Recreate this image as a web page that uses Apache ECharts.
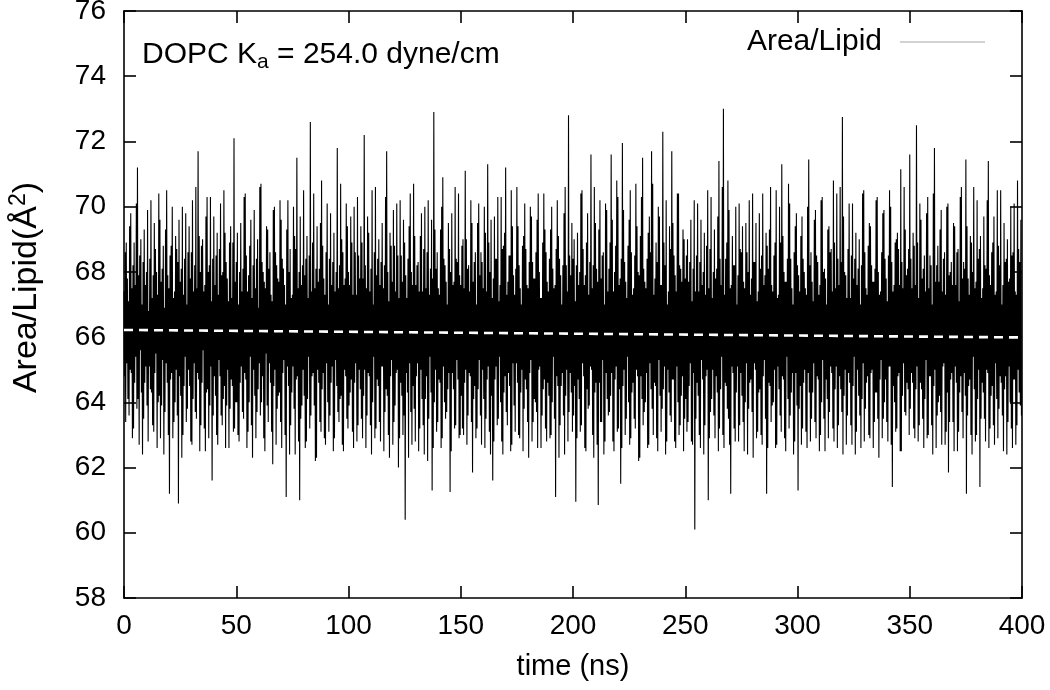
<!DOCTYPE html>
<html>
<head>
<meta charset="utf-8">
<script src="https://cdn.jsdelivr.net/npm/echarts@6/dist/echarts.min.js"></script>
<style>
html,body{margin:0;padding:0;background:#fff;}
#chart{width:1050px;height:690px;}
</style>
</head>
<body>
<div id="chart"></div>
<script>
// Sample spacing (ns) of the area-per-lipid trace
const timeStep = 0.25;

// Area/Lipid values (Å^2), in 50 ns blocks
const area_0_50 = [
67.4,64.8,68.6,63.4,68.9,65.2,67.8,64.1,67.1,63.6,69.4,65.0,69.8,64.9,67.5,62.9,68.2,63.2,68.9,64.6,
67.6,65.4,70.1,63.8,71.2,64.1,67.9,62.7,68.5,65.6,69.0,64.3,67.0,62.4,68.3,63.5,69.3,64.6,67.6,65.1,
68.0,63.9,69.9,62.8,66.8,65.1,68.4,64.4,70.2,64.3,67.2,63.3,67.9,63.1,69.5,64.9,68.7,65.5,68.0,62.6,
67.3,64.0,70.4,64.2,69.6,62.9,67.7,63.9,68.1,65.3,68.8,62.4,66.9,63.7,69.3,65.2,70.5,64.6,67.9,63.0,
67.5,61.2,68.5,64.7,68.8,64.9,70.0,62.9,67.2,63.4,67.4,64.0,69.1,65.0,68.7,63.6,68.3,60.9,69.6,64.8,
67.7,64.2,68.1,62.3,70.0,63.0,67.3,64.5,68.4,65.4,69.8,63.4,67.0,63.8,68.6,65.0,69.4,64.5,67.8,62.8,
68.6,62.7,70.2,64.1,67.4,65.2,68.2,63.7,70.6,63.5,67.5,64.9,71.7,64.7,69.1,62.5,68.0,63.3,68.8,64.6,
69.0,65.6,67.4,63.2,67.6,62.5,69.7,64.3,70.3,64.4,68.0,62.9,68.2,63.9,70.3,65.1,67.1,61.6,68.4,63.6,
69.7,64.8,67.6,64.2,68.5,63.0,69.2,62.7,67.3,65.3,68.7,64.8,70.1,63.6,67.9,63.3,68.0,64.1,70.5,64.5,
69.2,62.6,68.3,63.9,67.8,65.0,67.1,62.6,68.9,63.8,69.4,64.7,67.2,64.5,68.9,63.1,72.1,63.2,67.7,64.0];
const area_50_100 = [
68.3,64.0,69.2,63.0,67.0,62.8,68.0,64.6,69.5,65.1,67.4,63.7,68.1,63.5,70.3,64.9,70.4,64.7,68.5,62.6,
67.4,63.1,67.9,64.0,68.8,65.4,69.6,63.3,67.2,62.3,68.2,65.0,69.9,64.2,67.5,62.9,68.4,63.7,69.0,64.4,
66.9,65.2,70.6,63.6,70.7,64.0,68.3,64.8,68.0,62.9,67.7,62.5,67.5,65.5,69.4,63.9,69.3,63.4,68.1,65.2,
68.6,64.6,67.3,63.1,67.1,62.1,69.9,64.5,70.0,65.0,68.6,62.7,68.2,63.8,67.8,64.2,67.7,64.3,70.2,63.4,
69.6,62.6,68.4,64.9,68.1,65.3,67.6,63.0,67.0,61.1,69.3,65.1,70.2,64.5,68.0,62.4,68.7,63.3,67.2,64.3,
67.3,65.1,70.0,63.8,69.1,62.4,68.7,64.7,71.5,64.8,67.5,62.8,68.0,61.0,69.7,63.5,67.6,63.9,68.2,65.0,
70.5,64.2,67.9,62.6,68.4,62.8,69.1,64.1,67.2,65.4,68.5,63.2,72.6,63.6,67.4,64.8,68.9,64.9,70.4,63.9,
67.5,62.2,68.1,62.3,69.4,65.0,67.7,64.6,68.1,63.4,69.5,63.1,70.8,64.4,68.8,64.9,67.8,62.9,67.3,62.7,
68.6,65.2,70.1,64.0,67.0,63.1,68.4,63.6,69.8,64.6,67.6,65.1,68.3,62.5,69.2,62.9,67.4,65.3,68.0,64.5,
71.8,63.7,67.5,63.4,68.2,64.1,70.7,64.2,69.0,62.7,68.6,62.5,67.6,65.0,67.8,64.8,70.1,63.5,69.4,63.2];
const area_100_150 = [
68.0,63.9,67.6,64.3,69.7,64.7,68.9,63.1,67.3,62.6,70.0,64.6,68.6,65.2,67.3,62.8,70.3,63.3,68.5,65.0,
67.8,64.4,69.4,63.5,68.9,62.9,67.8,64.2,72.2,65.0,68.2,62.6,67.5,63.6,69.7,64.9,69.2,64.8,67.4,63.3,
68.1,62.4,70.5,64.0,67.0,65.4,68.6,62.9,70.6,63.2,67.9,64.7,68.4,64.5,69.0,63.4,67.6,62.8,68.3,65.1,
69.5,65.1,67.5,62.5,68.2,63.7,70.3,64.4,71.7,64.2,68.0,63.0,67.1,62.3,69.2,64.8,68.8,65.3,67.7,62.7,
69.9,63.4,68.8,63.9,67.4,64.9,70.1,65.0,68.5,62.0,67.2,62.9,70.2,64.6,68.5,64.2,67.7,63.0,69.6,63.6,
68.9,60.4,67.9,64.9,67.2,64.3,68.4,62.3,69.4,65.2,70.4,63.7,68.0,62.7,67.6,64.5,70.7,63.8,69.1,62.8,
67.6,64.8,68.2,65.2,68.3,62.5,67.4,63.2,69.1,65.0,69.8,64.1,67.4,63.3,68.7,62.4,70.0,64.1,67.5,64.8,
68.6,62.2,70.2,63.5,67.3,65.4,68.1,64.3,69.6,61.3,67.8,62.6,72.9,64.0,69.3,65.0,68.1,63.1,68.6,63.4,
67.5,64.7,67.3,64.6,69.3,62.6,70.0,62.9,70.9,65.1,68.4,64.0,68.2,63.5,67.7,63.7,67.0,64.4,69.5,64.9,
68.7,61.25,68.0,62.5,69.8,64.9,67.6,64.4,67.7,63.2,70.6,63.3,68.4,65.3,68.3,64.7,70.4,62.9,67.9,63.0];
const area_150_200 = [
67.6,64.2,68.8,63.2,69.0,63.0,67.5,64.6,71.1,65.0,69.0,62.7,68.1,63.6,68.2,64.9,67.4,64.8,70.2,63.4,
69.5,61.85,67.7,64.1,68.3,64.5,68.6,62.9,67.0,63.2,69.5,64.4,70.1,65.3,67.9,63.6,68.6,62.7,68.3,65.0,
67.5,64.1,70.0,62.6,69.2,63.5,67.4,64.7,71.3,65.1,68.9,63.1,68.0,62.4,69.6,64.2,67.2,61.6,67.8,62.8,
69.7,64.7,68.4,65.1,68.4,63.3,70.3,63.5,67.1,65.4,67.6,64.0,70.3,62.8,68.7,62.4,68.8,64.3,69.2,64.8,
71.2,63.7,67.3,63.3,67.7,64.9,68.5,64.5,68.5,62.5,70.5,62.7,69.4,65.2,67.9,63.9,67.3,63.1,68.1,65.2,
70.6,64.6,69.4,63.0,68.2,62.9,67.5,64.3,67.0,65.0,68.8,62.5,69.1,63.8,70.1,64.7,68.7,64.4,67.6,63.4,
67.5,62.3,68.3,64.9,70.0,65.3,69.7,62.8,68.3,63.4,67.8,64.1,67.8,64.0,68.6,63.7,69.6,62.6,70.4,65.0,
68.0,65.1,67.2,62.6,67.2,63.6,68.9,64.4,70.4,64.7,69.3,63.2,68.6,62.8,67.7,64.6,67.4,64.2,68.4,62.9,
69.3,63.0,70.0,64.0,68.1,65.4,67.5,63.5,67.6,61.1,68.7,64.8,70.2,64.5,69.1,62.3,68.4,63.3,67.9,64.5,
67.0,64.9,68.2,63.6,69.8,62.4,70.6,64.2,68.2,65.0,67.4,62.8,72.8,63.7,68.5,64.9,67.9,64.3,69.5,63.1];
const area_200_250 = [
68.4,63.6,69.0,64.5,67.1,60.95,68.2,62.9,69.2,64.7,67.6,64.1,68.0,63.1,70.4,63.3,70.5,65.2,68.7,64.8,
67.6,62.6,67.9,62.5,68.9,64.4,69.8,63.8,67.3,63.9,68.3,65.1,71.6,65.0,67.5,63.0,68.2,62.3,70.6,64.3,
69.5,64.6,68.1,62.7,67.7,60.85,69.3,64.6,70.2,63.4,67.8,63.4,68.5,65.3,68.6,62.4,67.0,62.8,70.1,64.9,
69.9,64.1,67.4,63.6,68.1,63.7,68.9,64.2,71.6,64.9,69.6,62.8,67.4,62.5,68.0,64.7,68.8,65.1,70.8,63.1,
70.3,63.2,67.6,64.4,67.8,61.5,68.4,62.6,71.95,64.5,69.9,65.0,68.3,63.0,67.7,63.5,67.2,65.4,68.8,64.0,
69.6,62.7,70.5,62.9,68.6,64.3,67.3,64.6,67.5,63.5,68.5,63.2,70.7,65.0,69.4,64.8,68.0,62.2,67.9,62.3,
69.1,64.8,70.3,64.1,71.5,63.3,68.1,63.7,67.7,64.0,67.5,64.9,68.4,62.6,69.2,62.7,69.7,65.2,68.6,64.4,
71.7,63.8,70.7,63.0,67.3,64.6,67.8,64.5,68.9,62.9,68.3,62.5,70.0,65.3,69.7,64.2,67.6,63.1,67.6,63.8,
72.3,64.4,68.9,65.1,68.2,62.4,70.2,62.8,67.0,65.0,67.4,64.3,69.4,63.6,68.7,63.4,71.7,64.7,69.5,64.7,
68.5,62.8,67.9,62.6,67.4,65.1,70.4,64.0,70.4,63.0,68.2,63.3,68.1,64.2,67.7,64.8,69.3,62.5,69.0,63.5];
const area_250_300 = [
67.8,64.1,68.5,63.1,69.0,63.4,67.7,64.5,68.3,65.2,69.6,62.8,67.1,62.7,68.1,64.9,70.2,60.1,67.4,63.5,
68.5,64.6,70.1,64.2,67.4,63.0,68.3,62.6,69.6,65.3,67.6,64.7,68.0,62.4,69.2,63.3,67.3,64.8,68.8,65.0,
70.5,61.0,67.5,62.9,68.7,63.7,70.3,64.1,67.2,65.0,68.0,63.6,69.3,62.9,67.8,64.8,68.1,64.3,69.7,62.5,
71.4,63.2,68.4,64.4,67.6,65.4,70.6,63.0,73.0,62.6,67.3,64.6,68.4,64.5,68.9,63.8,70.8,63.5,69.9,62.7,
67.5,61.2,67.6,65.1,69.1,64.9,68.2,63.2,68.2,62.8,70.0,64.3,67.0,65.1,67.9,62.8,70.1,63.3,68.7,64.9,
68.6,64.2,69.4,63.4,67.7,62.5,67.5,64.0,69.5,65.2,68.6,62.4,68.0,63.8,70.2,64.6,67.3,64.7,67.8,63.7,
70.4,62.3,68.3,65.2,68.3,65.0,69.5,62.9,67.1,63.1,67.4,64.3,69.8,64.4,68.1,63.0,68.5,62.7,70.4,64.8,
67.6,65.3,67.9,63.5,69.2,61.2,68.8,62.6,68.1,64.6,69.3,64.5,70.6,63.4,67.6,63.9,67.4,64.0,68.5,65.0,
68.9,62.6,70.5,62.7,67.2,65.1,67.3,64.4,70.0,63.6,68.9,63.1,71.3,64.8,69.1,64.7,68.0,62.9,67.7,62.5,
67.7,65.4,68.4,64.1,70.7,63.2,70.1,63.6,68.4,64.3,67.5,64.9,67.0,62.4,68.6,62.8,69.4,64.9,69.8,63.9];
const area_300_350 = [
68.2,61.3,67.9,63.8,67.4,64.5,69.1,62.7,69.7,63.2,68.4,64.6,68.0,65.0,67.5,63.1,67.3,62.6,70.0,64.9,
71.45,64.3,68.2,62.8,68.6,63.5,67.7,64.3,67.1,65.2,69.6,63.4,69.9,62.9,68.5,64.8,68.3,64.7,67.3,62.5,
67.6,63.0,70.2,64.0,70.3,65.3,68.0,63.5,68.1,62.5,67.8,64.7,67.0,64.1,69.3,62.9,69.4,63.7,68.6,65.1,
68.7,64.9,67.4,63.2,70.8,62.8,68.9,64.4,67.5,65.1,70.4,62.6,68.4,63.3,67.6,64.8,70.6,64.4,68.3,63.7,
72.75,62.4,69.7,64.2,68.0,65.0,67.9,62.7,67.2,63.6,68.7,64.9,70.1,64.6,67.2,63.3,68.5,62.7,70.1,64.5,
67.8,65.4,68.4,62.4,69.2,63.1,67.6,65.0,68.1,64.2,69.0,63.6,67.0,62.6,68.2,64.1,70.4,65.2,70.5,62.8,
68.6,63.8,67.5,64.6,67.3,64.8,68.8,63.0,69.5,62.9,69.4,64.9,68.2,65.0,67.7,62.6,67.7,63.4,68.1,64.3,
70.2,64.3,70.3,63.5,68.0,62.3,67.3,64.7,67.4,65.3,68.6,62.9,69.8,63.5,69.9,64.0,68.4,64.7,67.8,63.4,
67.1,62.8,68.5,65.1,70.5,65.1,70.0,62.7,68.3,61.4,67.4,64.5,67.6,64.0,68.9,63.1,69.0,63.2,69.2,64.8,
68.7,64.9,67.6,62.5,71.15,62.5,68.3,64.2,67.5,65.2,70.6,63.7,69.3,63.6,67.9,64.6,68.1,64.4,68.7,63.0];
const area_350_400 = [
71.6,63.8,68.4,64.9,67.5,64.6,69.2,63.2,68.8,62.9,67.6,64.4,72.5,65.1,68.9,62.8,67.2,63.3,70.1,64.6,
69.6,64.4,67.8,63.5,68.1,62.6,68.5,64.1,67.4,65.3,69.8,62.9,70.3,63.0,67.5,64.8,68.5,64.8,68.2,63.3,
67.0,62.4,70.4,64.5,71.8,65.0,67.7,62.6,68.2,63.6,68.8,64.0,67.7,64.2,69.3,63.7,69.9,62.7,67.4,65.1,
68.4,65.2,68.6,62.7,67.3,63.1,70.0,64.3,70.1,61.85,67.9,63.4,68.0,64.7,68.3,64.9,67.6,63.4,69.5,62.5,
69.4,65.1,67.6,64.6,68.6,62.5,68.7,63.1,67.1,64.3,70.3,64.8,70.6,63.7,67.8,62.9,68.3,64.9,68.1,64.2,
71.45,61.2,69.4,63.6,67.8,64.5,67.3,64.7,69.1,63.0,68.9,62.4,68.0,65.4,70.6,64.4,67.5,62.8,67.7,63.0,
70.2,64.1,68.4,65.0,68.7,61.4,69.1,63.5,67.2,64.6,67.5,64.3,69.7,63.5,68.2,62.8,68.1,65.0,70.2,64.9,
71.4,62.6,67.9,63.2,67.6,64.2,68.6,64.5,68.9,63.3,69.7,62.7,67.3,65.2,67.4,64.1,70.5,62.9,68.8,63.8,
68.2,64.8,70.5,64.6,67.0,63.6,67.6,62.5,69.5,64.4,68.3,64.8,68.4,62.4,69.0,63.4,67.7,65.1,67.8,64.0,
70.0,63.2,68.5,62.6,68.6,64.7,70.1,64.7,67.4,62.7,67.3,63.3,70.8,65.0,68.7,64.3,68.3,63.9,69.6,63.6];

// Linear fit (white dashed line)
const fitTimes = [0, 400];
const fitValues = [66.22, 65.99];

// Axis ticks
const xTicks = [0, 50, 100, 150, 200, 250, 300, 350, 400];
const yTicks = [58, 60, 62, 64, 66, 68, 70, 72, 74, 76];

const seriesName = 'Area/Lipid';

const areaValues = [].concat(area_0_50, area_50_100, area_100_150, area_150_200,
  area_200_250, area_250_300, area_300_350, area_350_400);
const areaData = areaValues.map((v, i) => [i * timeStep, v]);
const fitData = fitTimes.map((t, i) => [t, fitValues[i]]);

const FONT = '"Liberation Sans", Helvetica, Arial, sans-serif';
const chart = echarts.init(document.getElementById('chart'), null, {renderer: 'canvas'});

const axisLine = {show: true, onZero: false, lineStyle: {color: '#000', width: 1.6}};
const axisTick = {show: true, inside: true, length: 12, lineStyle: {color: '#000', width: 1.6}};

chart.setOption({
  animation: false,
  backgroundColor: '#fff',
  textStyle: {fontFamily: FONT},
  grid: {left: 124, right: 28, top: 11, bottom: 92, containLabel: false, outerBoundsMode: 'none'},
  title: {
    text: '{n|DOPC K}{s|a}{n| = 254.0 dyne/cm}',
    left: 142, top: 37, padding: 0,
    textStyle: {
      fontWeight: 'normal',
      rich: {
        n: {fontFamily: FONT, fontSize: 30, fontWeight: 'normal', color: '#000', lineHeight: 36},
        s: {fontFamily: FONT, fontSize: 21, fontWeight: 'normal', color: '#000', lineHeight: 22, verticalAlign: 'bottom'}
      }
    }
  },
  legend: {
    data: [{name: seriesName, icon: 'rect', itemStyle: {color: '#a8a8a8'}}],
    right: 65, top: 27, align: 'right', padding: 0,
    itemWidth: 85, itemHeight: 1.2,
    selectedMode: false,
    textStyle: {fontFamily: FONT, fontSize: 30, color: '#000', padding: [0, 13, 0, 0]}
  },
  xAxis: [{
    type: 'value', min: xTicks[0], max: xTicks[xTicks.length - 1], interval: 50,
    position: 'bottom',
    name: 'time (ns)', nameLocation: 'middle', nameGap: 54,
    nameTextStyle: {fontFamily: FONT, fontSize: 29, color: '#000'},
    axisLine: axisLine, axisTick: axisTick,
    axisLabel: {color: '#000', fontFamily: FONT, fontSize: 28, margin: 14},
    splitLine: {show: false}
  }, {
    type: 'value', min: xTicks[0], max: xTicks[xTicks.length - 1], interval: 50,
    position: 'top',
    axisLine: axisLine, axisTick: axisTick,
    axisLabel: {show: false}, splitLine: {show: false}
  }],
  yAxis: [{
    type: 'value', min: yTicks[0], max: yTicks[yTicks.length - 1], interval: 2,
    position: 'left',
    name: '{a|Area/Lipid(Å}{s|2}{a|)}', nameLocation: 'middle', nameGap: 77, nameRotate: 90,
    nameTextStyle: {
      padding: [0, 0, 0, 34],
      rich: {
        a: {fontFamily: FONT, fontSize: 34, color: '#000', lineHeight: 40},
        s: {fontFamily: FONT, fontSize: 23, color: '#000', lineHeight: 22, verticalAlign: 'top'}
      }
    },
    axisLine: axisLine, axisTick: axisTick,
    axisLabel: {color: '#000', fontFamily: FONT, fontSize: 28, margin: 18},
    splitLine: {show: false}
  }, {
    type: 'value', min: yTicks[0], max: yTicks[yTicks.length - 1], interval: 2,
    position: 'right',
    axisLine: axisLine, axisTick: axisTick,
    axisLabel: {show: false}, splitLine: {show: false}
  }],
  series: [{
    name: seriesName, type: 'line', data: areaData,
    xAxisIndex: 0, yAxisIndex: 0,
    showSymbol: false, symbol: 'none',
    lineStyle: {color: '#000', width: 1.1},
    itemStyle: {color: '#a8a8a8'},
    silent: true, clip: true, progressive: 0, z: 2
  }, {
    name: 'fit', type: 'line', data: fitData,
    xAxisIndex: 0, yAxisIndex: 0,
    showSymbol: false, symbol: 'none',
    lineStyle: {color: '#fff', width: 2.6, type: [9, 6]},
    silent: true, z: 3
  }]
});
</script>
</body>
</html>
